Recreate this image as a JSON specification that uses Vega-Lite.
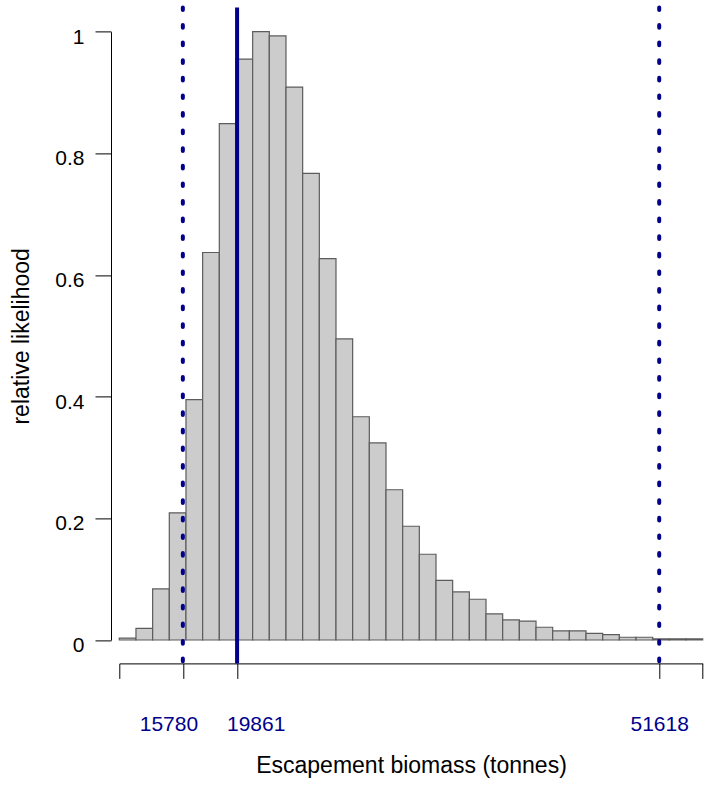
{
  "$schema": "https://vega.github.io/schema/vega-lite/v6.json",
  "width": 583.4,
  "height": 656,
  "autosize": "none",
  "padding": {"left": 119.3, "top": 7.4, "right": 14.3, "bottom": 123.6},
  "background": "white",
  "config": {"view": {"stroke": null}, "font": "Liberation Sans"},
  "datasets": {
    "bins": [
      {"x": 11000, "x2": 12254, "rl": 0.003},
      {"x": 12254, "x2": 13508, "rl": 0.019},
      {"x": 13508, "x2": 14762, "rl": 0.084},
      {"x": 14762, "x2": 16016, "rl": 0.209},
      {"x": 16016, "x2": 17270, "rl": 0.395},
      {"x": 17270, "x2": 18524, "rl": 0.637},
      {"x": 18524, "x2": 19778, "rl": 0.849},
      {"x": 19778, "x2": 21032, "rl": 0.955},
      {"x": 21032, "x2": 22286, "rl": 1.0},
      {"x": 22286, "x2": 23540, "rl": 0.993},
      {"x": 23540, "x2": 24794, "rl": 0.909},
      {"x": 24794, "x2": 26048, "rl": 0.767},
      {"x": 26048, "x2": 27302, "rl": 0.627},
      {"x": 27302, "x2": 28556, "rl": 0.495},
      {"x": 28556, "x2": 29810, "rl": 0.367},
      {"x": 29810, "x2": 31064, "rl": 0.324},
      {"x": 31064, "x2": 32318, "rl": 0.247},
      {"x": 32318, "x2": 33572, "rl": 0.187},
      {"x": 33572, "x2": 34826, "rl": 0.141},
      {"x": 34826, "x2": 36080, "rl": 0.098},
      {"x": 36080, "x2": 37334, "rl": 0.079},
      {"x": 37334, "x2": 38588, "rl": 0.067},
      {"x": 38588, "x2": 39842, "rl": 0.043},
      {"x": 39842, "x2": 41096, "rl": 0.033},
      {"x": 41096, "x2": 42350, "rl": 0.031},
      {"x": 42350, "x2": 43604, "rl": 0.021},
      {"x": 43604, "x2": 44858, "rl": 0.015},
      {"x": 44858, "x2": 46112, "rl": 0.015},
      {"x": 46112, "x2": 47366, "rl": 0.011},
      {"x": 47366, "x2": 48620, "rl": 0.009},
      {"x": 48620, "x2": 49874, "rl": 0.0045},
      {"x": 49874, "x2": 51128, "rl": 0.0045},
      {"x": 51128, "x2": 52382, "rl": 0.002},
      {"x": 52382, "x2": 53636, "rl": 0.002},
      {"x": 53636, "x2": 54890, "rl": 0.002}
    ],
    "markers": [
      {"x": 15780, "kind": "lower"},
      {"x": 19861, "kind": "mode"},
      {"x": 51618, "kind": "upper"}
    ]
  },
  "encoding": {
    "x": {
      "field": "x",
      "type": "quantitative",
      "scale": {"domain": [11000, 54890], "nice": false, "zero": false},
      "axis": {
        "title": "Escapement biomass (tonnes)",
        "values": [11000, 15780, 19861, 51618, 54890],
        "labelExpr": "datum.value < 12000 || datum.value > 54000 ? '' : format(datum.value, 'd')",
        "grid": false,
        "domainColor": "black",
        "domainWidth": 1,
        "tickColor": "black",
        "tickWidth": 1,
        "tickSize": 15,
        "labelColor": "#00008b",
        "labelFont": "Liberation Sans",
        "labelFontSize": 21,
        "labelBaseline": "alphabetic",
        "labelPadding": 51.6,
        "labelOverlap": false,
        "labelFlush": false,
        "labelBound": false,
        "labelOffset": {
          "condition": [
            {"test": "datum.value == 15780", "value": -14.4},
            {"test": "datum.value == 19861", "value": 18.6}
          ],
          "value": 0
        },
        "titleFont": "Liberation Sans",
        "titleFontSize": 23,
        "titleFontWeight": "normal",
        "titleColor": "black",
        "titleBaseline": "alphabetic",
        "titleY": 109.3
      }
    }
  },
  "layer": [
    {
      "data": {"name": "bins"},
      "mark": {"type": "bar", "fill": "#cccccc", "stroke": "#5c5c5c", "strokeWidth": 1.2},
      "encoding": {
        "x2": {"field": "x2"},
        "y": {
          "field": "rl",
          "type": "quantitative",
          "scale": {"domain": [0, 1], "range": [632.6, 24.3], "nice": false, "zero": true},
          "axis": {
            "title": "relative likelihood",
            "values": [0, 0.2, 0.4, 0.6, 0.8, 1],
            "format": "~g",
            "grid": false,
            "offset": 8.3,
            "domainColor": "black",
            "domainWidth": 1,
            "tickColor": "black",
            "tickWidth": 1,
            "tickSize": 16,
            "labelColor": "black",
            "labelFont": "Liberation Sans",
            "labelFontSize": 21,
            "labelAlign": "right",
            "labelBaseline": "alphabetic",
            "labelOffset": 11.5,
            "labelPadding": 11,
            "labelOverlap": false,
            "labelFlush": false,
            "titleFont": "Liberation Sans",
            "titleFontSize": 23,
            "titleFontWeight": "normal",
            "titleColor": "black",
            "titleBaseline": "alphabetic",
            "titleX": -83
          }
        },
        "y2": {"datum": 0}
      }
    },
    {
      "data": {"name": "markers"},
      "transform": [{"filter": "datum.kind != 'mode'"}],
      "mark": {"type": "rule", "color": "#00008b", "strokeWidth": 4, "strokeDash": [2.7, 14.9], "strokeCap": "round"},
      "encoding": {}
    },
    {
      "data": {"name": "markers"},
      "transform": [{"filter": "datum.kind == 'mode'"}],
      "mark": {"type": "rule", "color": "#00008b", "strokeWidth": 4},
      "encoding": {}
    }
  ]
}
